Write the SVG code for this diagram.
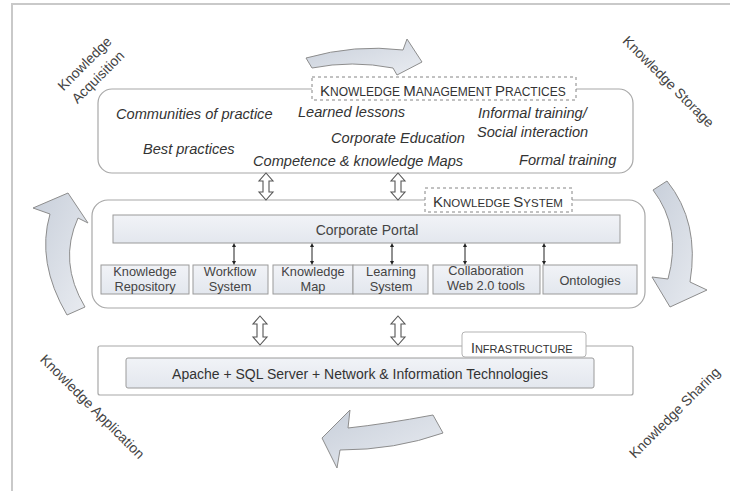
<svg xmlns="http://www.w3.org/2000/svg" width="730" height="491" viewBox="0 0 730 491">
<defs>
<linearGradient id="gArrow" x1="0" y1="0" x2="1" y2="1">
<stop offset="0" stop-color="#c8cfda"/>
<stop offset="1" stop-color="#e9ecf1"/>
</linearGradient>
<linearGradient id="gBar" x1="0" y1="0" x2="0" y2="1">
<stop offset="0" stop-color="#f1f3f7"/>
<stop offset="1" stop-color="#e3e7ee"/>
</linearGradient>
<marker id="dot" viewBox="0 0 6 6" refX="3" refY="3" markerWidth="4" markerHeight="4" orient="auto-start-reverse">
<path d="M0,0 L6,3 L0,6 Z" fill="#222"/>
</marker>
</defs>
<style>
.frame{fill:none;stroke:#c9c9c9;stroke-width:2}
.box{fill:#fff;stroke:#a8a8a8;stroke-width:1.2}
.bar{fill:url(#gBar);stroke:#9a9a9a;stroke-width:1}
.arrow{fill:url(#gArrow);stroke:#8d8d8d;stroke-width:1}
.dbl{fill:#fff;stroke:#555;stroke-width:1.1}
.lbl{fill:#fff;stroke:#777;stroke-width:0.9;stroke-dasharray:3 3}
.it{font-family:"Liberation Sans",Arial,sans-serif;font-style:italic;font-size:14.6px;fill:#333}
.tx{font-family:"Liberation Sans",Arial,sans-serif;font-size:12.8px;fill:#444;text-anchor:middle}
.cap{font-family:"Liberation Sans",Arial,sans-serif;fill:#333}
.rot{font-family:"Liberation Sans",Arial,sans-serif;font-size:14px;fill:#444;text-anchor:middle}
.conn{stroke:#222;stroke-width:1;marker-start:url(#dot);marker-end:url(#dot)}
</style>
<rect class="frame" x="12" y="4" width="730" height="500"/>

<g id="cycle-arrows">
<path class="arrow" d="M306,58 Q355,44 403,50 L407,39 L422,62 L397,75 L393,68 Q352,60 312,68 Z"/>
<path class="arrow" d="M653,190 L667,181 Q700,222 690,282 L707,290 L670,307 L652,277 L668,279 Q682,228 653,190 Z"/>
<path class="arrow" d="M433,415 L443,433 Q395,450 340,450 L337,468 L322,438 L350,410 L348,428 Q385,424 433,415 Z"/>
<path class="arrow" d="M68,193 L88,223 L78,218 Q58,262 85,307 L67,315 Q36,262 50,214 L33,208 Z"/>
</g>

<g id="labels-cycle">
<g transform="translate(88,67) rotate(-45)">
<text class="rot" x="0" y="0">Knowledge</text>
<text class="rot" x="0" y="19">Acquisition</text>
</g>
<text class="rot" transform="translate(665,85) rotate(45)">Knowledge Storage</text>
<text class="rot" transform="translate(89,410) rotate(45)">Knowledge Application</text>
<text class="rot" transform="translate(678,416) rotate(-45)">Knowledge Sharing</text>
</g>

<g id="km-practices">
<rect class="box" x="98" y="89" width="535" height="84" rx="14"/>
<rect class="lbl" x="312" y="77" width="264" height="23"/>
<text class="cap" x="320" y="96"><tspan font-size="15">K</tspan><tspan font-size="12">NOWLEDGE </tspan><tspan font-size="15">M</tspan><tspan font-size="12">ANAGEMENT </tspan><tspan font-size="15">P</tspan><tspan font-size="12">RACTICES</tspan></text>
<text class="it" x="116" y="119">Communities of practice</text>
<text class="it" x="143" y="154">Best practices</text>
<text class="it" x="298" y="117">Learned lessons</text>
<text class="it" x="331" y="143">Corporate Education</text>
<text class="it" x="253" y="166">Competence &amp; knowledge Maps</text>
<text class="it" x="478" y="118">Informal training/</text>
<text class="it" x="477" y="137">Social interaction</text>
<text class="it" x="519" y="165">Formal training</text>
</g>

<g id="knowledge-system">
<rect class="box" x="92" y="200" width="553" height="108" rx="16"/>
<rect class="lbl" x="425" y="188" width="147" height="24"/>
<text class="cap" x="433" y="207"><tspan font-size="15">K</tspan><tspan font-size="11.5">NOWLEDGE </tspan><tspan font-size="15">S</tspan><tspan font-size="11.5">YSTEM</tspan></text>
</g>

<g id="corporate-portal">
<rect class="bar" x="113" y="215" width="507" height="28"/>
<text class="tx" x="367" y="235" style="font-size:14px">Corporate Portal</text>
</g>

<g id="knowledge-repository">
<rect class="bar" x="101" y="265" width="88" height="29"/>
<text class="tx" x="145" y="276">Knowledge</text>
<text class="tx" x="145" y="291">Repository</text>
</g>
<g id="workflow-system">
<rect class="bar" x="193" y="265" width="75" height="29"/>
<text class="tx" x="230" y="276">Workflow</text>
<text class="tx" x="230" y="291">System</text>
</g>
<g id="knowledge-map">
<rect class="bar" x="273" y="265" width="80" height="29"/>
<text class="tx" x="313" y="276">Knowledge</text>
<text class="tx" x="313" y="291">Map</text>
</g>
<g id="learning-system">
<rect class="bar" x="353" y="265" width="75" height="29"/>
<text class="tx" x="391" y="276">Learning</text>
<text class="tx" x="391" y="291">System</text>
</g>
<g id="collaboration">
<rect class="bar" x="433" y="265" width="107" height="29"/>
<text class="tx" x="486" y="275">Collaboration</text>
<text class="tx" x="486" y="290">Web 2.0 tools</text>
</g>
<g id="ontologies">
<rect class="bar" x="543" y="265" width="94" height="29"/>
<text class="tx" x="590" y="285">Ontologies</text>
</g>

<g id="infrastructure">
<rect class="box" x="98" y="346" width="535" height="49" rx="2"/>
<rect class="bar" x="126" y="358" width="468" height="30" rx="2"/>
<text class="tx" x="360" y="379" style="font-size:14px;fill:#333">Apache + SQL Server + Network &amp; Information Technologies</text>
<rect x="462" y="332" width="124" height="25" rx="3" fill="#fff" stroke="#aaa" stroke-width="0.9"/>
<text class="cap" x="471" y="353"><tspan font-size="14">I</tspan><tspan font-size="11">NFRASTRUCTURE</tspan></text>
</g>

<g id="connectors">
<line class="conn" x1="234" y1="245" x2="234" y2="263"/>
<line class="conn" x1="312" y1="245" x2="312" y2="263"/>
<line class="conn" x1="392" y1="245" x2="392" y2="263"/>
<line class="conn" x1="465" y1="245" x2="465" y2="263"/>
<line class="conn" x1="544" y1="245" x2="544" y2="263"/>
<path class="dbl" d="M266,173 L273,181 L269,181 L269,192 L273,192 L266,200 L259,192 L263,192 L263,181 L259,181 Z"/>
<path class="dbl" d="M398,173 L405,181 L401,181 L401,192 L405,192 L398,200 L391,192 L395,192 L395,181 L391,181 Z"/>
<path class="dbl" d="M260,316 L267,324 L263,324 L263,337 L267,337 L260,345 L253,337 L257,337 L257,324 L253,324 Z"/>
<path class="dbl" d="M398,316 L405,324 L401,324 L401,337 L405,337 L398,345 L391,337 L395,337 L395,324 L391,324 Z"/>
</g>
</svg>
